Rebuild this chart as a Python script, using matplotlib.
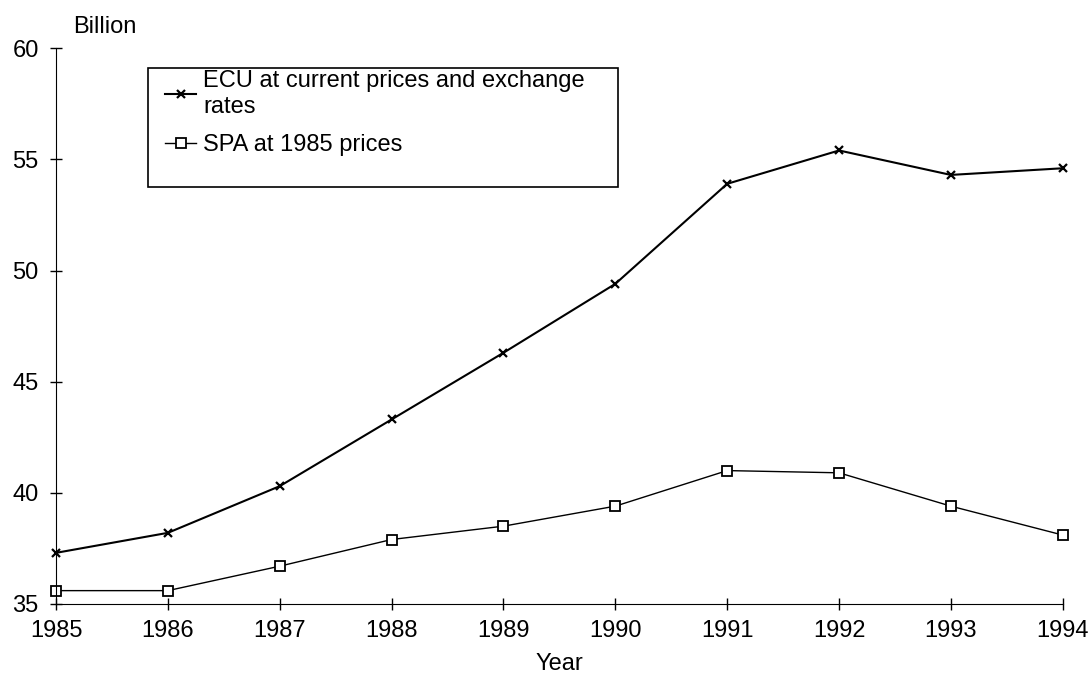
import numpy as np
import matplotlib
matplotlib.use("Agg")
import matplotlib.pyplot as plt
from matplotlib.patches import Rectangle

plt.rcParams['font.family'] = ['Liberation Sans', 'DejaVu Sans']

years = np.arange(1985, 1995)
ecu = [37.3, 38.2, 40.3, 43.3, 46.3, 49.4, 53.9, 55.4, 54.3, 54.6]
spa = [35.6, 35.6, 36.7, 37.9, 38.5, 39.4, 41.0, 40.9, 39.4, 38.1]
labels = ["ECU at current prices and exchange\nrates", "SPA at 1985 prices"]

fs = 17

fig = plt.figure(figsize=(10.9, 6.79), dpi=100)
ax = fig.add_axes([0.0514, 0.1105, 0.9236, 0.8185])

ax.plot(years, ecu, color="black", lw=1.5, marker="x", ms=6, mew=1.6, label=labels[0], clip_on=False)
ax.plot(years, spa, color="black", lw=1.0, marker="s", ms=6.5, mfc="white", mec="black", mew=1.3,
        label=labels[1], clip_on=False)

ax.set_xlim(1985, 1994)
ax.set_ylim(35, 60)
ax.set_xticks(years)
ax.set_yticks([35, 40, 45, 50, 55, 60])
ax.spines['top'].set_visible(False)
ax.spines['right'].set_visible(False)
ax.tick_params(direction="inout", length=9, width=1, labelsize=fs, color="black")
ax.tick_params(axis="x", pad=7)
ax.tick_params(axis="y", pad=8)

ax.set_xlabel("Year", fontsize=fs, labelpad=8)
fig.text(73 / 1090, 1 - 27 / 679, "Billion", fontsize=fs, va="center", ha="left")

# legend frame (taller than the entries, as in the original)
fig.patches.append(Rectangle((148 / 1090, 1 - 187 / 679), 470 / 1090, 119 / 679,
                             transform=fig.transFigure, fill=False, ec="black", lw=1.2))
leg = ax.legend(loc="upper left", bbox_to_anchor=(156 / 1090, 1 - 61 / 679),
                bbox_transform=fig.transFigure, frameon=False, fontsize=fs,
                handlelength=1.3, handletextpad=0.3, labelspacing=0.7, borderaxespad=0)

fig.savefig("out.png", dpi=100)
